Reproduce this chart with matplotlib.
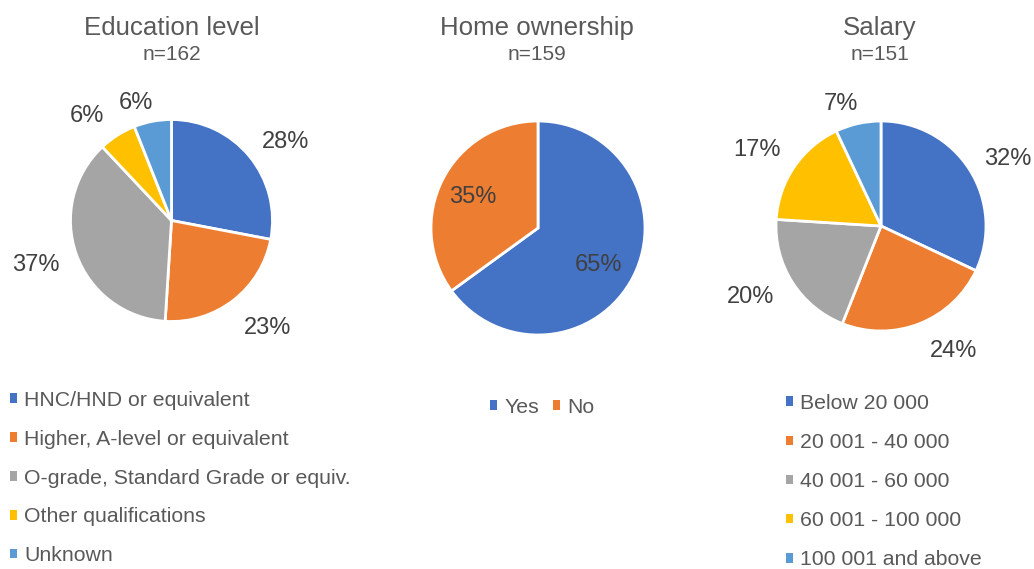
import matplotlib.pyplot as plt
from matplotlib.patches import Patch

plt.rcParams['font.family'] = ['Liberation Sans', 'DejaVu Sans']

W, H = 1034, 569
TEXT = '#595959'
PCT_TEXT = '#404040'
COLORS = ['#4472C4', '#ED7D31', '#A5A5A5', '#FFC000', '#5B9BD5']

edu_labels = ['HNC/HND or equivalent', 'Higher, A-level or equivalent',
              'O-grade, Standard Grade or equiv.', 'Other qualifications', 'Unknown']
edu_pct = [28, 23, 37, 6, 6]
edu_n = 162

home_labels = ['Yes', 'No']
home_pct = [65, 35]
home_n = 159

sal_labels = ['Below 20 000', '20 001 - 40 000', '40 001 - 60 000',
              '60 001 - 100 000', '100 001 and above']
sal_pct = [32, 24, 20, 17, 7]
sal_n = 151

fig = plt.figure(figsize=(W / 100, H / 100), dpi=100)


def pie_axes(cx, cy, r):
    # square axes in pixels so that unit radius = r pixels
    half = 1.5 * r
    ax = fig.add_axes([(cx - half) / W, (H - cy - half) / H, 2 * half / W, 2 * half / H])
    return ax


def draw_pie(ax, values, label_xy):
    wedges, texts, autotexts = ax.pie(
        values, colors=COLORS[:len(values)], startangle=90, counterclock=False,
        autopct=lambda p: f'{p:.0f}%',
        wedgeprops=dict(edgecolor='white', linewidth=2), frame=True)
    ax.set_xlim(-1.5, 1.5)
    ax.set_ylim(-1.5, 1.5)
    ax.set_axis_off()
    # data labels placed like Excel's best-fit
    for t, (x, y) in zip(autotexts, label_xy):
        t.set_position((x, y - 0.02))
        t.set_color(PCT_TEXT)
        t.set_fontsize(17)
    return autotexts


def title(cx, name, n):
    fig.text(cx / W, 1 - 28 / H, name, ha='center', va='center', fontsize=18.6, color=TEXT)
    fig.text(cx / W, 1 - 55 / H, f'n={n}', ha='center', va='center', fontsize=15, color=TEXT)


def legend(labels, x, y, ncol=1, spacing=0.93):
    handles = [Patch(facecolor=c, edgecolor='none') for c in COLORS[:len(labels)]]
    fig.legend(handles, labels, loc='upper left', bbox_to_anchor=(x / W, 1 - y / H),
               ncol=ncol, frameon=False, fontsize=15.3, labelcolor=TEXT,
               handlelength=0.33, handleheight=0.33, handletextpad=0.35,
               borderpad=0, borderaxespad=0, labelspacing=spacing, columnspacing=0.65)


# Education level
ax1 = pie_axes(171.5, 220.5, 101)
draw_pie(ax1, edu_pct, [(1.13, 0.80), (0.955, -1.045), (-1.345, -0.418),
                        (-0.837, 1.054), (-0.351, 1.186)])
title(172, 'Education level', edu_n)
legend(edu_labels, 10, 391, spacing=0.93)

# Home ownership
ax2 = pie_axes(538, 228, 107)
draw_pie(ax2, home_pct, [(0.57, -0.324), (-0.605, 0.308)])
title(537, 'Home ownership', home_n)
legend(home_labels, 490, 398, ncol=2)

# Salary
ax3 = pie_axes(881, 226, 105)
draw_pie(ax3, sal_pct, [(1.212, 0.654), (0.695, -1.174), (-1.241, -0.657),
                        (-1.178, 0.740), (-0.384, 1.184)])
title(880, 'Salary', sal_n)
legend(sal_labels, 786, 394, spacing=0.945)

fig.savefig('out.png', dpi=100)
